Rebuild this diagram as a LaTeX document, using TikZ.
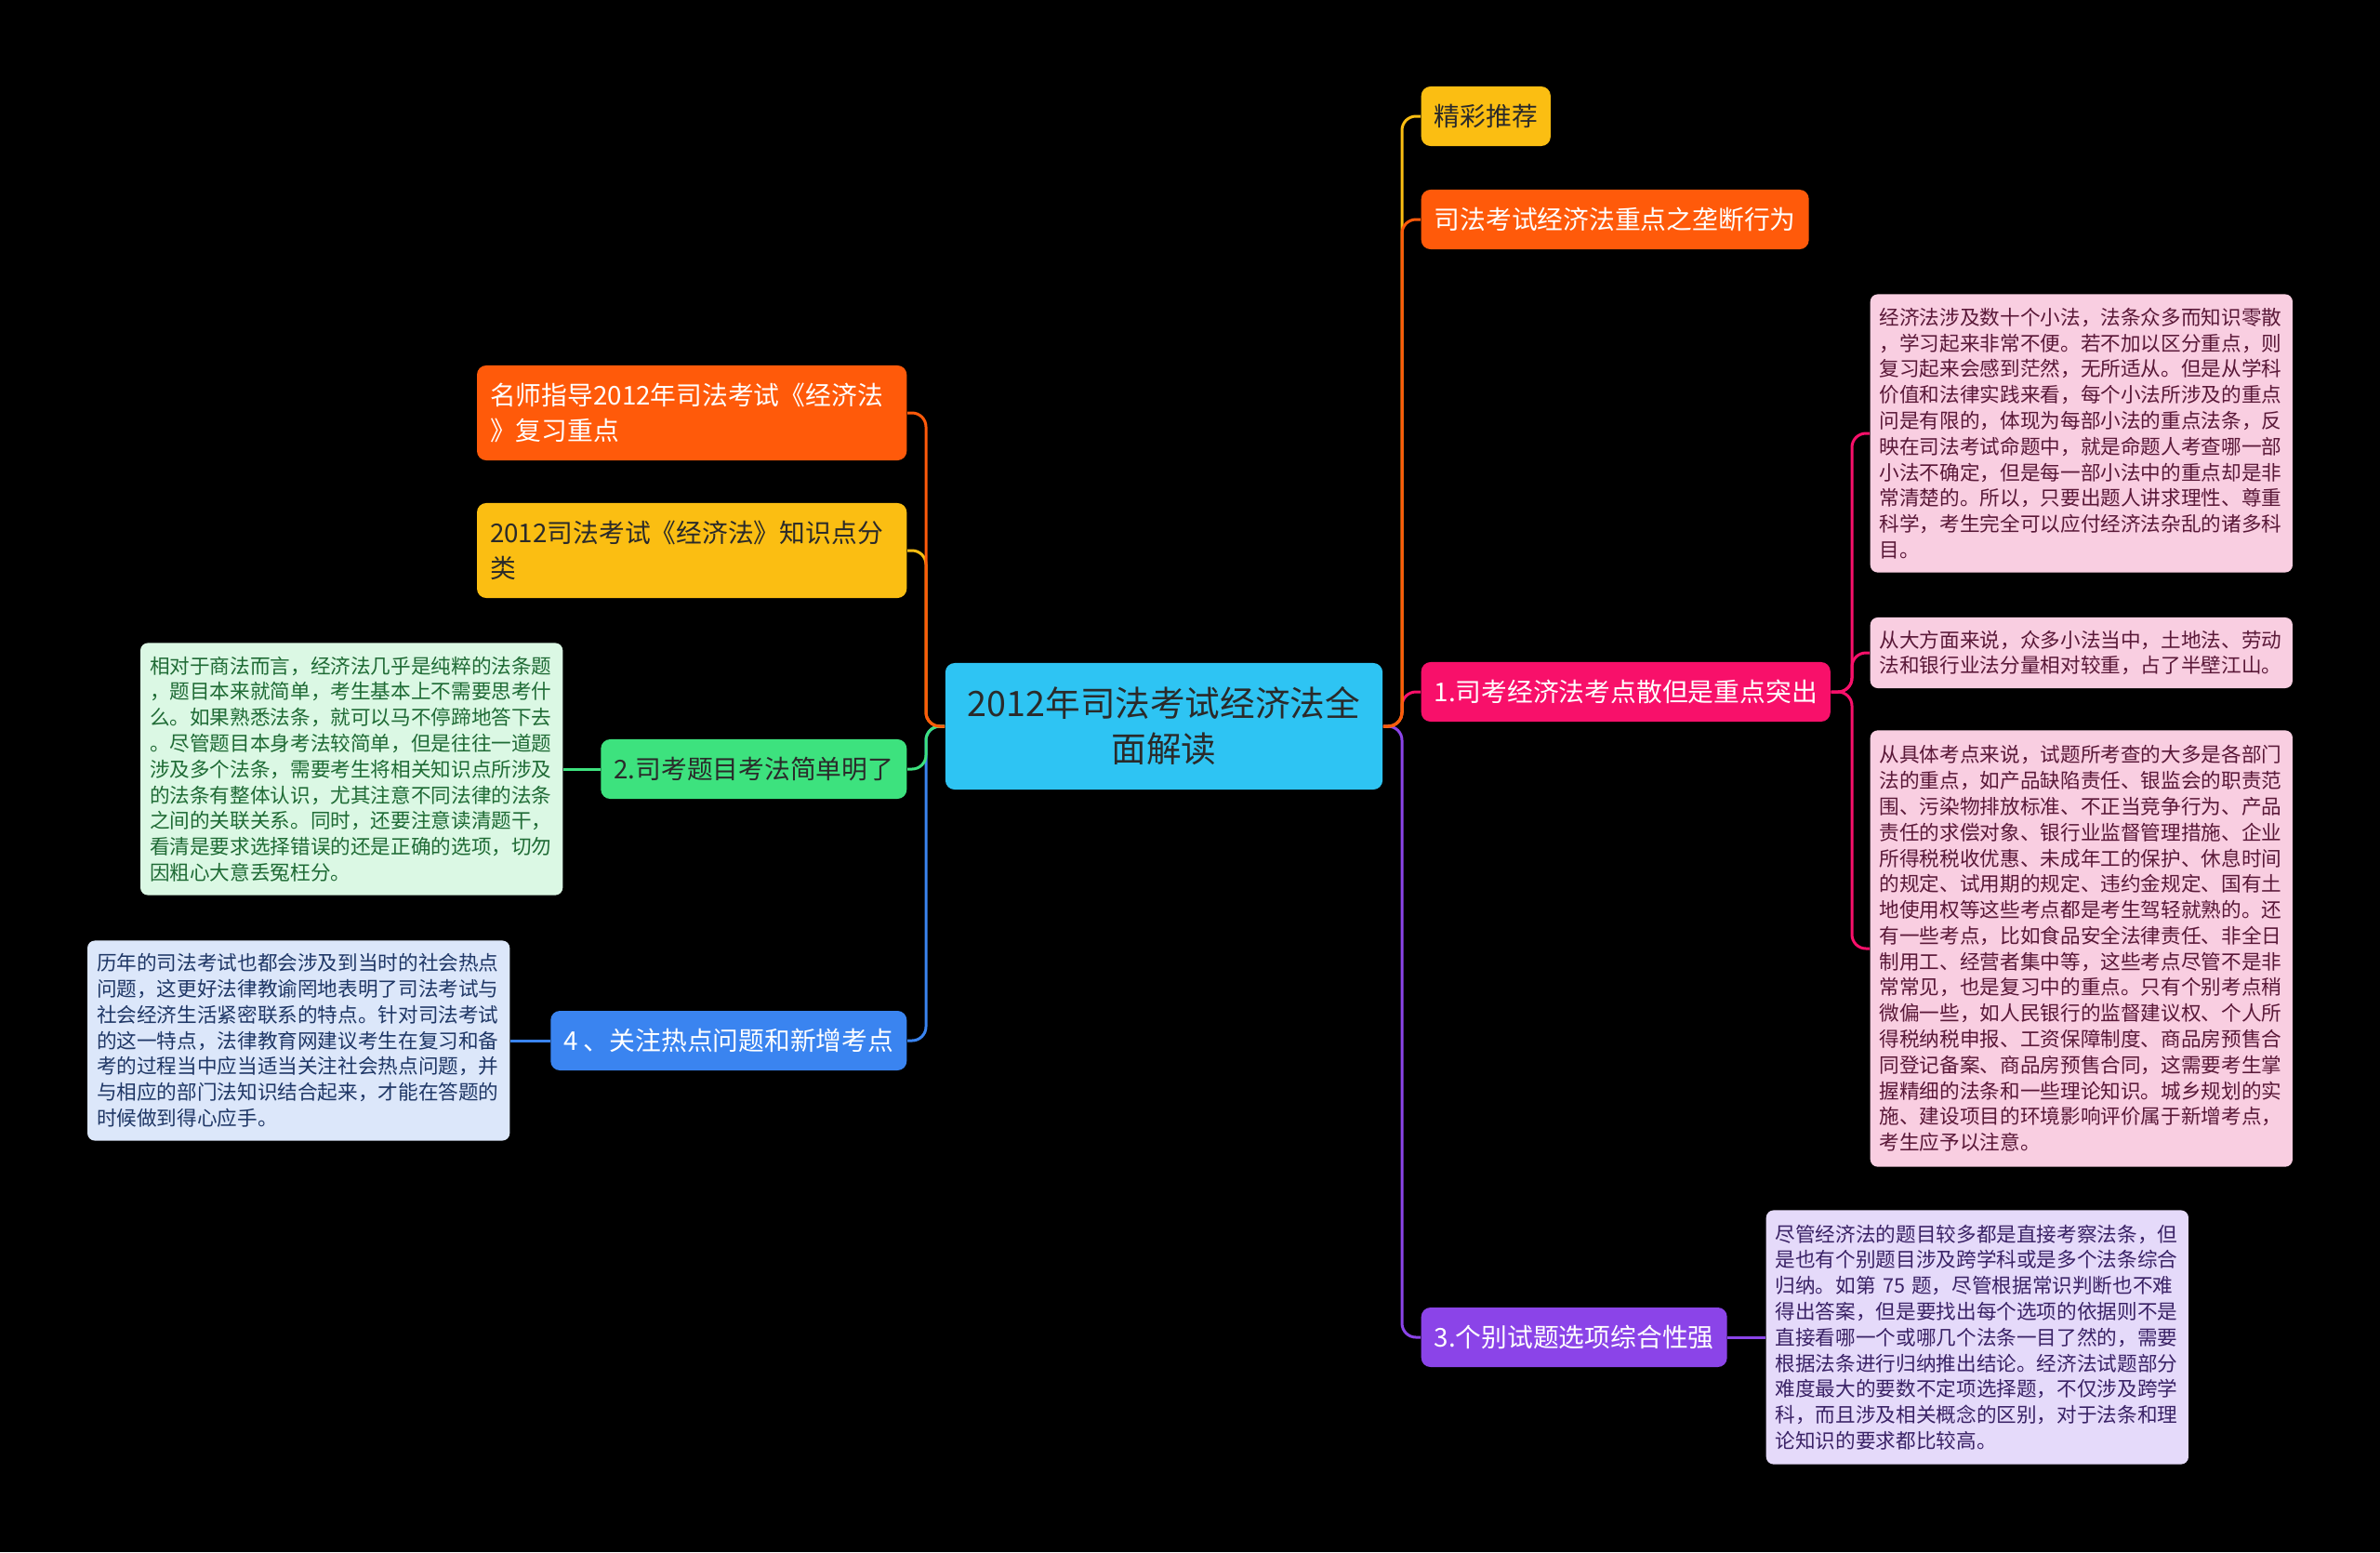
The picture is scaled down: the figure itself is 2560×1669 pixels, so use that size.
\documentclass[tikz,border=0pt]{standalone}
\usepackage{fontspec}
\setmainfont{Noto Sans CJK SC}
\usepackage{tikz}
\definecolor{mmcyan}{HTML}{2EC4F3}
\definecolor{mmyellow}{HTML}{FBBE12}
\definecolor{mmorange}{HTML}{FF5A0A}
\definecolor{mmpink}{HTML}{F8106A}
\definecolor{mmpurple}{HTML}{8B44E8}
\definecolor{mmgreen}{HTML}{3DE27E}
\definecolor{mmblue}{HTML}{3A84F0}
\definecolor{notepink}{HTML}{F9CEE1}
\definecolor{notelilac}{HTML}{E5DAFA}
\definecolor{notegreen}{HTML}{DBF8E4}
\definecolor{noteblue}{HTML}{DCE7FA}
\definecolor{inkdark}{HTML}{2A2A2A}
\definecolor{inkpink}{HTML}{5A1838}
\definecolor{inklilac}{HTML}{3A2266}
\definecolor{inkgreen}{HTML}{1F6B35}
\definecolor{inkblue}{HTML}{1F3766}

\begin{document}
\begin{tikzpicture}[x=0.01cm,y=-0.01cm,
  topic/.style={rounded corners=0.1cm,inner xsep=0.14cm,minimum height=0.64cm,font=\fontsize{7.9}{10.7}\selectfont},
  twoline/.style={topic,text width=4.34cm,align=left,minimum height=1.02cm},
  note/.style={rounded corners=0.08cm,inner xsep=0.1cm,text width=4.34cm,align=left,font=\fontsize{6.15}{7.9}\selectfont},
  link/.style={line width=0.03cm,rounded corners=0.15cm}]
  \fill[black] (0,0) rectangle (2560,1669);
  \useasboundingbox (0,0) rectangle (2560,1669);

  \node[rounded corners=0.1cm,fill=mmcyan,text=inkdark,minimum width=4.7cm,minimum height=1.36cm,
        align=center,font=\fontsize{10.7}{13.9}\selectfont] (root) at (1252,781)
        {2012年司法考试经济法全\\面解读};

  \node[topic,fill=mmyellow,text=inkdark,anchor=west] (jingcai) at (1528,125) {精彩推荐};
  \node[topic,fill=mmorange,text=white,anchor=west] (longduan) at (1528,236) {司法考试经济法重点之垄断行为};
  \node[topic,fill=mmpink,text=white,anchor=west] (kaodian) at (1528,744) {1.司考经济法考点散但是重点突出};
  \node[topic,fill=mmpurple,text=white,anchor=west] (zonghe) at (1528,1438) {3.个别试题选项综合性强};

  \node[twoline,fill=mmorange,text=white,anchor=east] (mingshi) at (976,444) {名师指导2012年司法考试《经济法\\》复习重点};
  \node[twoline,fill=mmyellow,text=inkdark,anchor=east] (fenlei) at (976,592) {2012司法考试《经济法》知识点分\\类};
  \node[topic,fill=mmgreen,text=inkdark,anchor=east] (jiandan) at (976,827) {2.司考题目考法简单明了};
  \node[topic,fill=mmblue,text=white,anchor=east] (redian) at (976,1119) {4 、关注热点问题和新增考点};

  \node[note,fill=notepink,text=inkpink,anchor=west,minimum height=2.99cm] (kaodiana) at (2011,466)
    {经济法涉及数十个小法，法条众多而知识零散\\
     ，学习起来非常不便。若不加以区分重点，则\\
     复习起来会感到茫然，无所适从。但是从学科\\
     价值和法律实践来看，每个小法所涉及的重点\\
     问是有限的，体现为每部小法的重点法条，反\\
     映在司法考试命题中，就是命题人考查哪一部\\
     小法不确定，但是每一部小法中的重点却是非\\
     常清楚的。所以，只要出题人讲求理性、尊重\\
     科学，考生完全可以应付经济法杂乱的诸多科\\
     目。};
  \node[note,fill=notepink,text=inkpink,anchor=west,minimum height=0.76cm] (kaodianb) at (2011,702)
    {从大方面来说，众多小法当中，土地法、劳动\\
     法和银行业法分量相对较重，占了半壁江山。};
  \node[note,fill=notepink,text=inkpink,anchor=west,minimum height=4.69cm] (kaodianc) at (2011,1020)
    {从具体考点来说，试题所考查的大多是各部门\\
     法的重点，如产品缺陷责任、银监会的职责范\\
     围、污染物排放标准、不正当竞争行为、产品\\
     责任的求偿对象、银行业监督管理措施、企业\\
     所得税税收优惠、未成年工的保护、休息时间\\
     的规定、试用期的规定、违约金规定、国有土\\
     地使用权等这些考点都是考生驾轻就熟的。还\\
     有一些考点，比如食品安全法律责任、非全日\\
     制用工、经营者集中等，这些考点尽管不是非\\
     常常见，也是复习中的重点。只有个别考点稍\\
     微偏一些，如人民银行的监督建议权、个人所\\
     得税纳税申报、工资保障制度、商品房预售合\\
     同登记备案、商品房预售合同，这需要考生掌\\
     握精细的法条和一些理论知识。城乡规划的实\\
     施、建设项目的环境影响评价属于新增考点，\\
     考生应予以注意。};
  \node[note,fill=notelilac,text=inklilac,anchor=west,minimum height=2.73cm] (zonghenote) at (1899,1438)
    {尽管经济法的题目较多都是直接考察法条，但\\
     是也有个别题目涉及跨学科或是多个法条综合\\
     归纳。如第 75 题，尽管根据常识判断也不难\\
     得出答案，但是要找出每个选项的依据则不是\\
     直接看哪一个或哪几个法条一目了然的，需要\\
     根据法条进行归纳推出结论。经济法试题部分\\
     难度最大的要数不定项选择题，不仅涉及跨学\\
     科，而且涉及相关概念的区别，对于法条和理\\
     论知识的要求都比较高。};
  \node[note,fill=notegreen,text=inkgreen,anchor=east,minimum height=2.71cm] (jiandannote) at (606,827)
    {相对于商法而言，经济法几乎是纯粹的法条题\\
     ，题目本来就简单，考生基本上不需要思考什\\
     么。如果熟悉法条，就可以马不停蹄地答下去\\
     。尽管题目本身考法较简单，但是往往一道题\\
     涉及多个法条，需要考生将相关知识点所涉及\\
     的法条有整体认识，尤其注意不同法律的法条\\
     之间的关联关系。同时，还要注意读清题干，\\
     看清是要求选择错误的还是正确的选项，切勿\\
     因粗心大意丢冤枉分。};
  \node[note,fill=noteblue,text=inkblue,anchor=east,minimum height=2.15cm] (rediannote) at (549,1119)
    {历年的司法考试也都会涉及到当时的社会热点\\
     问题，这更好法律教谕罔地表明了司法考试与\\
     社会经济生活紧密联系的特点。针对司法考试\\
     的这一特点，法律教育网建议考生在复习和备\\
     考的过程当中应当适当关注社会热点问题，并\\
     与相应的部门法知识结合起来，才能在答题的\\
     时候做到得心应手。};

  \coordinate (rtrunk) at (1508,781);
  \coordinate (ltrunk) at (996,781);
  \coordinate (ktrunk) at (1992,744);

  \draw[link,mmpurple] (root.east) -- (rtrunk) |- (zonghe.west);
  \draw[link,mmpink] (root.east) -- (rtrunk) |- (kaodian.west);
  \draw[link,mmyellow] (root.east) -- (rtrunk) |- (jingcai.west);
  \draw[link,mmorange] (root.east) -- (rtrunk) |- (longduan.west);

  \draw[link,mmblue] (root.west) -- (ltrunk) |- (redian.east);
  \draw[link,mmgreen] (root.west) -- (ltrunk) |- (jiandan.east);
  \draw[link,mmyellow] (root.west) -- (ltrunk) |- (fenlei.east);
  \draw[link,mmorange] (root.west) -- (ltrunk) |- (mingshi.east);

  \draw[link,mmpink] (kaodian.east) -- (ktrunk) |- (kaodiana.west);
  \draw[link,mmpink] (kaodian.east) -- (ktrunk) |- (kaodianb.west);
  \draw[link,mmpink] (kaodian.east) -- (ktrunk) |- (kaodianc.west);
  \draw[link,mmpurple] (zonghe.east) -- (zonghenote.west);
  \draw[link,mmgreen] (jiandan.west) -- (jiandannote.east);
  \draw[link,mmblue] (redian.west) -- (rediannote.east);
\end{tikzpicture}
\end{document}
